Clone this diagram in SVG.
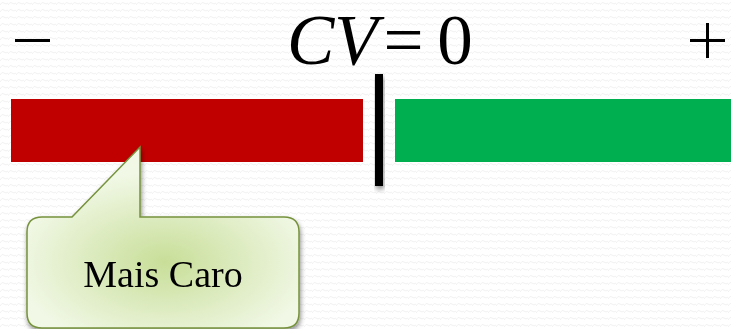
<svg xmlns="http://www.w3.org/2000/svg" width="731" height="329" viewBox="0 0 731 329">
<defs>
<pattern id="bg" width="8" height="7" patternUnits="userSpaceOnUse">
<path d="M0,5 Q2,1 4,3 T8,3" fill="none" stroke="#f1f1f1" stroke-width="1"/>
</pattern>
<radialGradient id="cg" cx="165" cy="262" r="150" gradientUnits="userSpaceOnUse" gradientTransform="translate(165 262) scale(1 0.6) translate(-165 -262)">
<stop offset="0" stop-color="#c8de98"/>
<stop offset="1" stop-color="#f1f8e6"/>
</radialGradient>
<filter id="sh" x="-20%" y="-20%" width="140%" height="140%">
<feGaussianBlur in="SourceAlpha" stdDeviation="2.5"/>
<feOffset dx="1" dy="3"/>
<feComponentTransfer><feFuncA type="linear" slope="0.45"/></feComponentTransfer>
<feMerge><feMergeNode/><feMergeNode in="SourceGraphic"/></feMerge>
</filter>
<style>
.sym{font-family:"Liberation Serif","Times New Roman",serif;fill:#000;font-size:71px}
.lbl{font-family:"Liberation Serif","Times New Roman",serif;font-size:38px;fill:#000}
</style>
</defs>
<rect width="731" height="329" fill="#ffffff"/>
<rect width="731" height="329" fill="url(#bg)"/>
<g id="title">
<text class="sym" x="287" y="63.5" font-style="italic">CV</text>
<text class="sym" x="403.5" y="63.5" text-anchor="middle">=</text>
<text class="sym" x="455" y="63.5" text-anchor="middle">0</text>
</g>
<g id="minus"><rect x="15" y="39" width="35" height="3" fill="#000"/></g>
<g id="plus">
<rect x="690" y="39" width="35" height="3" fill="#000"/>
<rect x="706" y="23" width="3" height="35" fill="#000"/>
</g>
<g id="red-bar"><rect x="11" y="99" width="352" height="63" fill="#c00000"/></g>
<g id="green-bar"><rect x="395" y="99" width="336" height="63" fill="#00b050"/></g>
<g id="divider"><rect x="375" y="74" width="8" height="112" fill="#000" filter="url(#sh)"/></g>
<g id="callout" filter="url(#sh)">
<path d="M42,217 L72,217 L140,147 L140,217 L284,217 Q299,217 299,232 L299,313 Q299,328 284,328 L42,328 Q27,328 27,313 L27,232 Q27,217 42,217 Z" fill="url(#cg)" stroke="#76923c" stroke-width="1.5"/>
<text class="lbl" x="163" y="287" text-anchor="middle">Mais Caro</text>
</g>
</svg>
